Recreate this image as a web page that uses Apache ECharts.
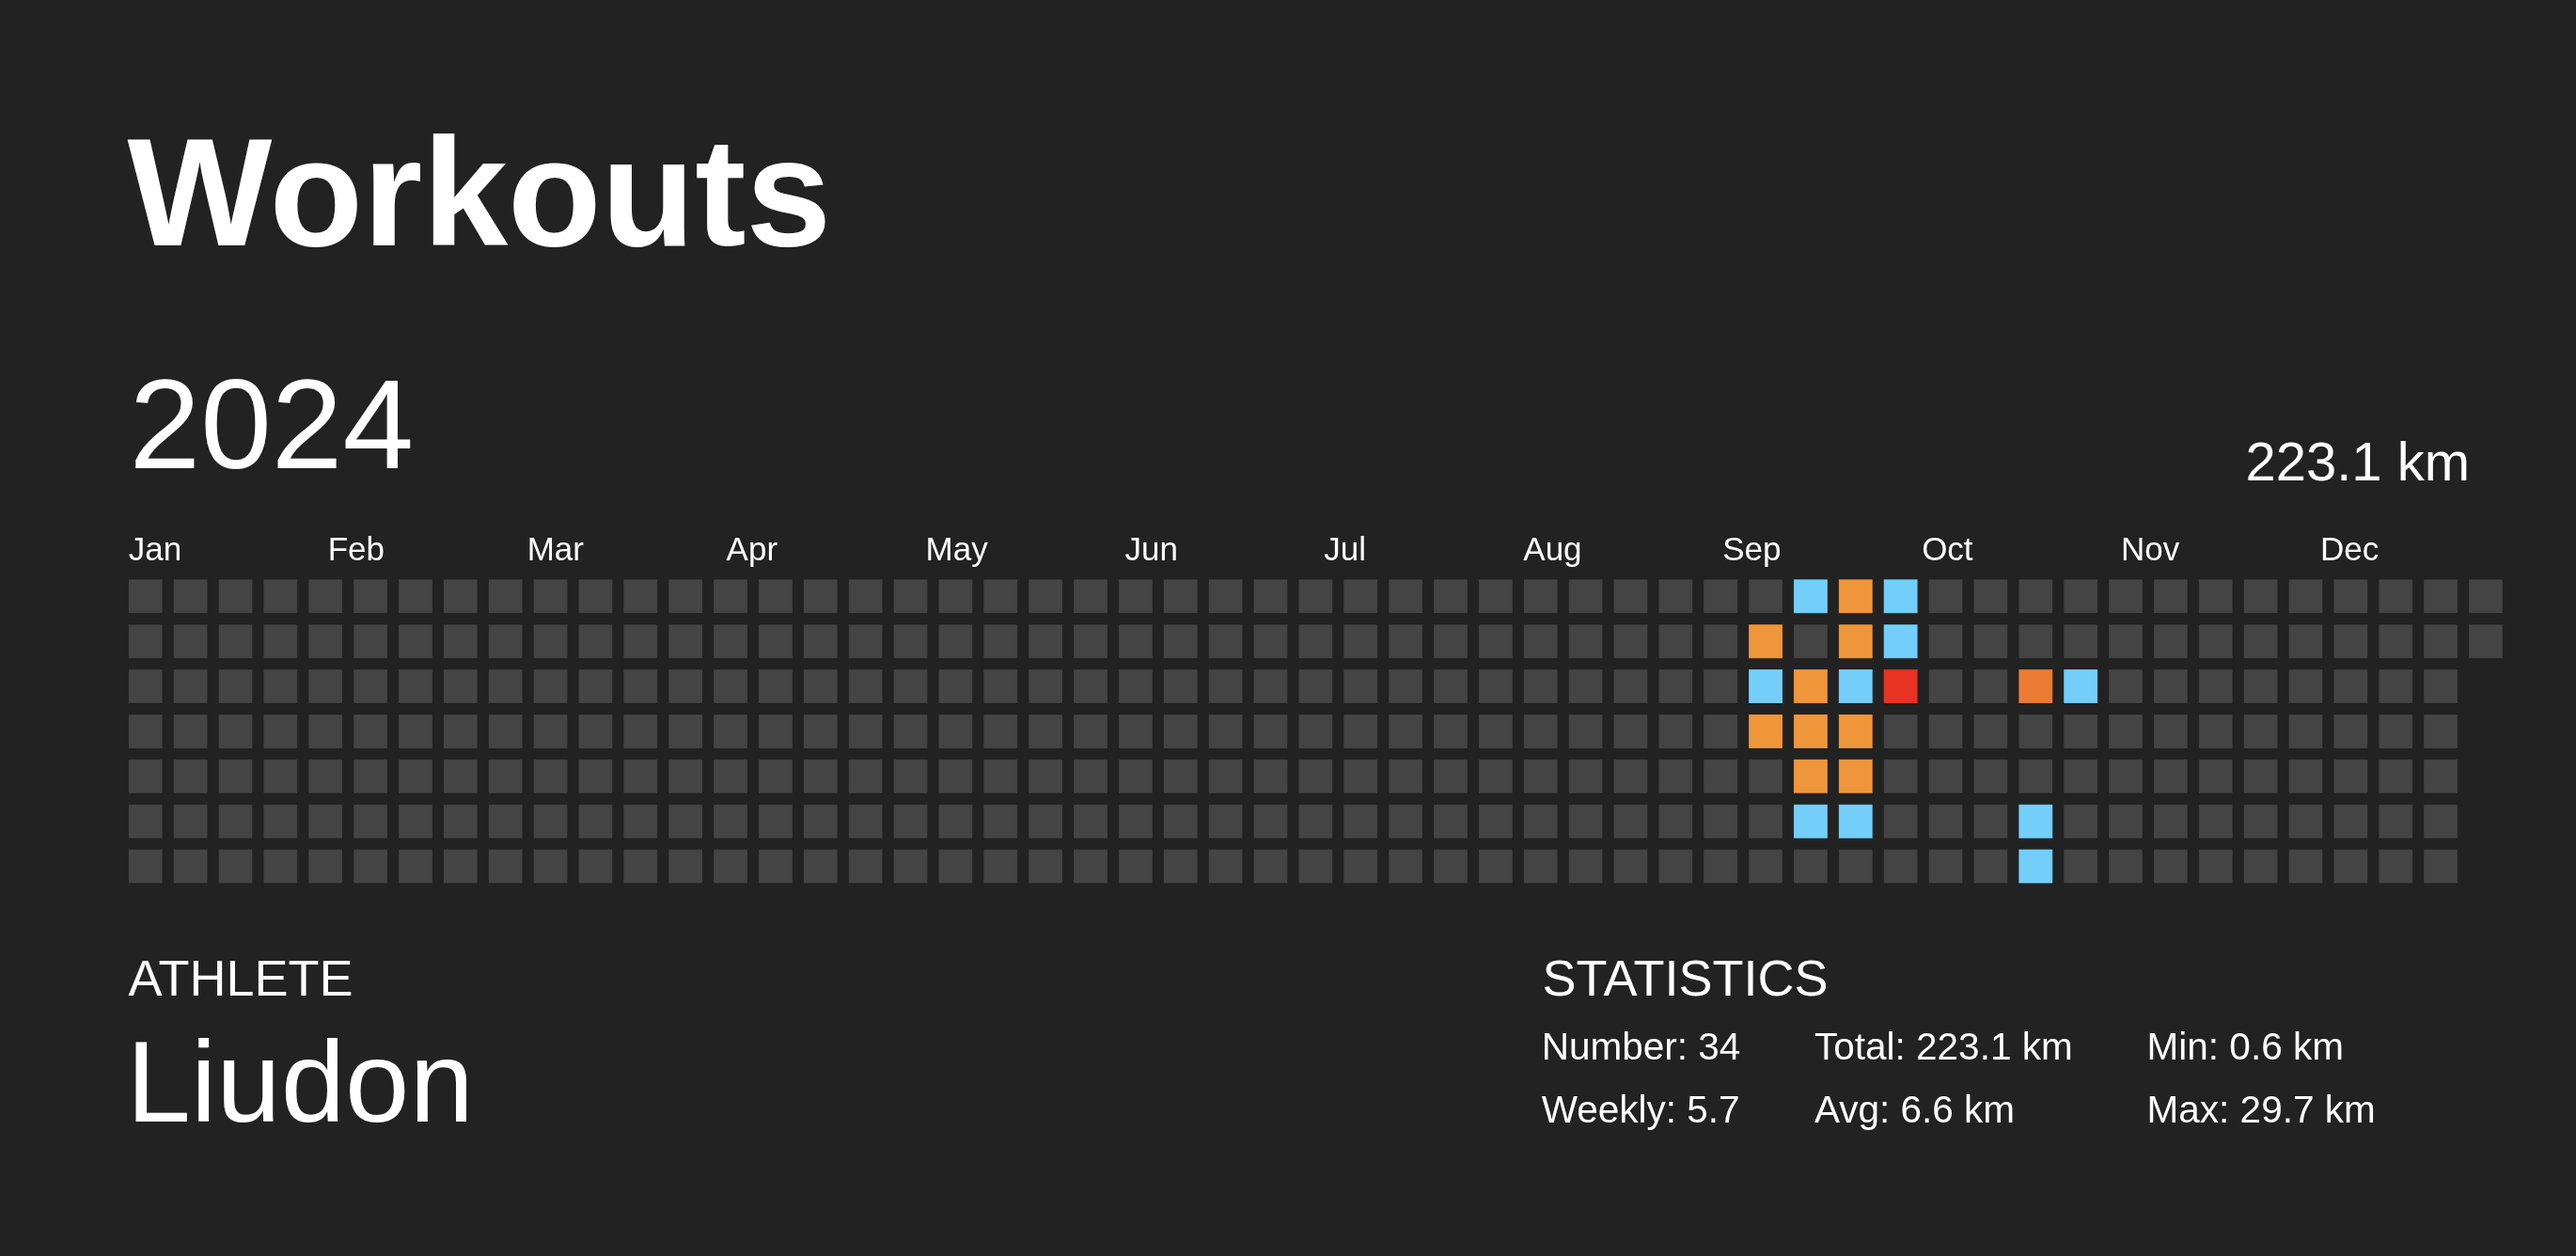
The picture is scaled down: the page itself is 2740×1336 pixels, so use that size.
<!DOCTYPE html>
<html>
<head>
<meta charset="utf-8">
<title>Workouts 2024</title>
<script src="https://cdn.jsdelivr.net/npm/echarts@6/dist/echarts.min.js"></script>
<style>
  html, body { margin: 0; padding: 0; background: #222222; }
  #chart { width: 2740px; height: 1336px; }
</style>
</head>
<body>
<div id="chart"></div>
<script>
const year = 2024;
const monthLabels = ['Jan', 'Feb', 'Mar', 'Apr', 'May', 'Jun', 'Jul', 'Aug', 'Sep', 'Oct', 'Nov', 'Dec'];
const weekdayLabels = ['Mon', 'Tue', 'Wed', 'Thu', 'Fri', 'Sat', 'Sun'];

// days with a workout and the km done that day
const activeDays = [
  '2024-09-10', '2024-09-11', '2024-09-12',
  '2024-09-16', '2024-09-18', '2024-09-19', '2024-09-20', '2024-09-21',
  '2024-09-23', '2024-09-24', '2024-09-25', '2024-09-26', '2024-09-27', '2024-09-28',
  '2024-09-30', '2024-10-01', '2024-10-02',
  '2024-10-23', '2024-10-26', '2024-10-27',
  '2024-10-30'
];
const activeKm = [
  15.1, 3.1, 16.9,
  4.2, 13.5, 16.8, 12.4, 2.5,
  17.2, 13.9, 5.0, 16.4, 12.9, 3.8,
  4.4, 2.9, 29.7,
  20.5, 3.6, 4.7,
  3.6
];

const totalText = '223.1 km';
const statsCol1 = ['Number: 34', 'Weekly: 5.7'];
const statsCol2 = ['Total: 223.1 km', 'Avg: 6.6 km'];
const statsCol3 = ['Min: 0.6 km', 'Max: 29.7 km'];

// build one cell per day: [week, weekday, km]
const kmByDay = {};
activeDays.forEach((d, i) => { kmByDay[d] = activeKm[i]; });

const cells = [];
const start = new Date(Date.UTC(year, 0, 1));
const startDow = (start.getUTCDay() + 6) % 7;
for (let t = start.getTime(); new Date(t).getUTCFullYear() === year; t += 86400000) {
  const d = new Date(t);
  const n = Math.round((t - start.getTime()) / 86400000);
  const key = d.toISOString().slice(0, 10);
  const dow = (d.getUTCDay() + 6) % 7;
  const week = Math.floor((n + startDow) / 7);
  cells.push([week, dow, kmByDay[key] || 0]);
}
const weeks = [];
for (let i = 0; i <= cells[cells.length - 1][0]; i++) weeks.push(i);

const font = 'Liberation Sans, Arial, sans-serif';
const chart = echarts.init(document.getElementById('chart'), null, { renderer: 'canvas' });

function txt(x, y, text, size, opts) {
  return {
    type: 'text', x: x, y: y,
    style: Object.assign({
      text: text, fill: '#ffffff', fontFamily: font, fontSize: size,
      align: 'left', verticalAlign: 'middle'
    }, opts || {})
  };
}

const graphics = [
  txt(135.5, 215.8, 'Workouts', 163, { fontWeight: 'bold' }),
  txt(137.5, 460.5, String(year), 136),
  txt(2627, 495.4, totalText, 58, { align: 'right' }),
  txt(136.5, 1043.7, 'ATHLETE', 54),
  txt(134.5, 1158.9, 'Liudon', 123),
  txt(1640.5, 1043.7, 'STATISTICS', 54)
];
[statsCol1, statsCol2, statsCol3].forEach((col, c) => {
  const x = [1639.7, 1930, 2283.6][c];
  col.forEach((s, r) => {
    graphics.push(txt(x, [1116.2, 1183.2][r], s, 40.5));
  });
});

chart.setOption({
  backgroundColor: '#222222',
  animation: false,
  grid: [
    { left: 130.8, top: 610.4, width: 2537.1, height: 335.1 },
    { left: 136.8, top: 586.5, width: 2331.2, height: 1 }
  ],
  xAxis: [
    { type: 'category', gridIndex: 0, data: weeks, show: false },
    {
      type: 'category', gridIndex: 1, data: monthLabels, position: 'top',
      boundaryGap: false,
      axisLine: { show: false }, axisTick: { show: false }, splitLine: { show: false },
      axisLabel: {
        interval: 0, margin: 0, align: 'left', verticalAlign: 'middle',
        color: '#ffffff', fontSize: 35, fontFamily: font
      }
    }
  ],
  yAxis: [
    { type: 'category', gridIndex: 0, data: weekdayLabels, inverse: true, show: false },
    { type: 'value', gridIndex: 1, show: false }
  ],
  visualMap: {
    type: 'piecewise', show: false, dimension: 2, seriesIndex: 0,
    pieces: [
      { min: 0, max: 0, color: '#444444' },
      { gt: 0, lte: 8, color: '#73cff9' },
      { gt: 8, lte: 19, color: '#f0963a' },
      { gt: 19, lte: 25, color: '#ec7b33' },
      { gt: 25, color: '#e83323' }
    ]
  },
  series: [{
    type: 'custom',
    xAxisIndex: 0, yAxisIndex: 0,
    data: cells,
    encode: { x: 0, y: 1 },
    renderItem: function (params, api) {
      const c = api.coord([api.value(0), api.value(1)]);
      const band = api.size([1, 1]);
      const w = band[0] * 0.752, h = band[1] * 0.752;
      return {
        type: 'rect',
        shape: { x: c[0] - w / 2, y: c[1] - h / 2, width: w, height: h },
        style: { fill: api.visual('color'), stroke: 'rgba(0,0,0,0.12)', lineWidth: 1 }
      };
    }
  }],
  graphic: graphics
});
</script>
</body>
</html>
